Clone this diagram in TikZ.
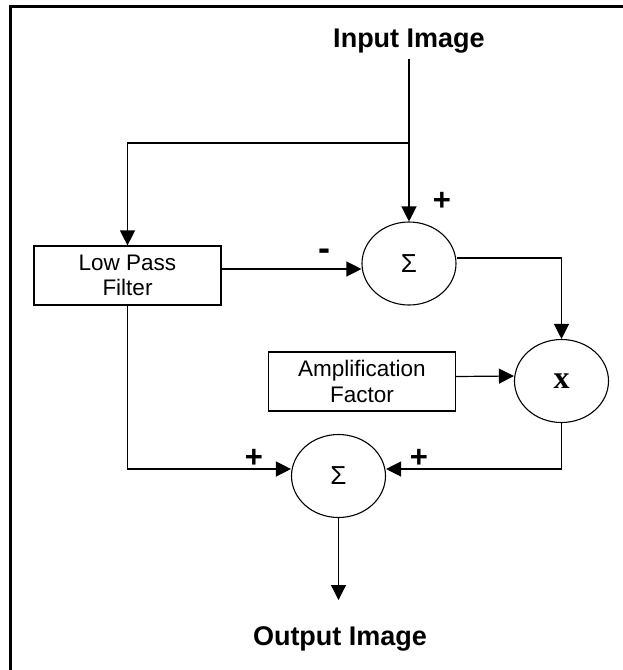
\documentclass[tikz,border=0pt]{standalone}
\usepackage{fontspec}
\setmainfont{Liberation Sans}
\newfontfamily\serifx{Liberation Serif}
\usetikzlibrary{arrows.meta,shapes.geometric}
\begin{document}
\begin{tikzpicture}[x=1pt,y=-1pt,
  wire/.style={line width=1.2pt},
  arr/.style={wire,-{Triangle[length=15pt,width=15pt]}},
  blk/.style={draw,line width=1.2pt,rectangle,minimum width=187pt,minimum height=59pt,inner sep=0pt,align=center,font=\fontsize{22.5}{25.5}\selectfont},
  junc/.style={draw,line width=1.1pt,ellipse,minimum width=94pt,minimum height=83pt,inner sep=0pt},
  title/.style={font=\fontsize{27}{32}\selectfont\bfseries,inner sep=0pt,anchor=base},
  sgn/.style={font=\fontsize{31}{31}\selectfont\bfseries,inner sep=0pt}
]
\useasboundingbox (0,0) rectangle (623,670);
\fill[white] (0,0) rectangle (623,670);
\draw[line width=3pt] (10.5,670) -- (10.5,6.5) -- (623,6.5);

\node[title] (inp) at (409,47) {Input Image};
\node[title] (out) at (340,645) {Output Image};
\coordinate (inpEnd) at (409,59);
\coordinate (J) at (409,143);
\coordinate (outEnd) at (338.5,600);

\node[blk] (lpf) at (127.5,275.5) {Low Pass\\Filter};
\node[blk] (amp) at (362,381.5) {Amplification\\Factor};

\node[junc,font=\fontsize{26}{26}\selectfont] (s1) at (409,263.5) {Σ};
\node[junc,font=\fontsize{26}{26}\selectfont] (s2) at (338.5,476) {Σ};
\node[junc,font=\fontsize{32}{32}\selectfont] (mul) at (561.5,381) {\serifx\bfseries x};

\node[sgn] (p1) at (442,201) {+};
\node[sgn,font=\fontsize{36}{36}\selectfont\bfseries] (m1) at (324,255) {-};
\node[sgn] (p2) at (254,458) {+};
\node[sgn] (p3) at (419,458) {+};

\draw[arr] (inpEnd) -- (s1.north);
\draw[arr] (J) -| (lpf.north);
\draw[arr] ([yshift=6.5pt]lpf.east) -- ([yshift=-5.5pt]s1.west);
\draw[arr] ([yshift=5.5pt]s1.east) -| (mul.north);
\draw[arr] ([yshift=5pt]amp.east) -- ([yshift=5pt]mul.west);
\draw[arr] (mul.south) |- ([yshift=7pt]s2.east);
\draw[arr] (lpf.south) |- ([yshift=7pt]s2.west);
\draw[arr] (s2.south) -- (outEnd);
\end{tikzpicture}
\end{document}
